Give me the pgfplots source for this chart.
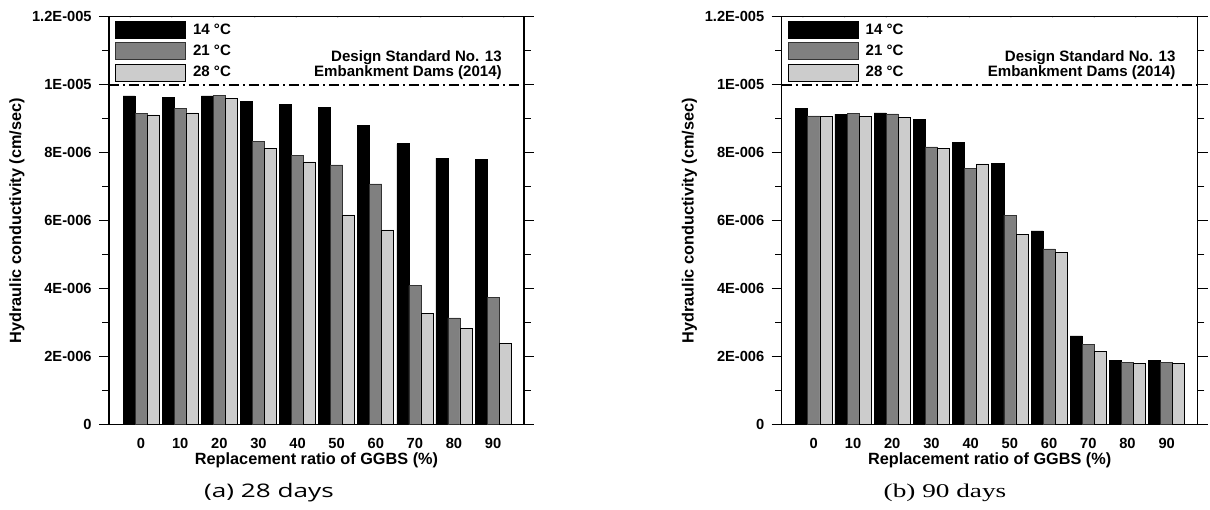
\documentclass[border=0pt]{standalone}
\usepackage{fontspec}
\setmainfont{Liberation Sans}
\newfontfamily\capsans{Open Sans}[FakeStretch=1.4]
\newfontfamily\capserif{Liberation Serif}[FakeStretch=1.4]
\usepackage{pgfplots}
\usepackage{pgfplotstable}
\pgfplotsset{compat=1.18}
\definecolor{barmid}{RGB}{128,128,128}
\definecolor{barlight}{RGB}{204,204,204}

% 28 days: a = 14 C, b = 21 C, c = 28 C
\pgfplotstableread{
x a b c
0 9.67e-6 9.16e-6 9.11e-6
1 9.62e-6 9.29e-6 9.17e-6
2 9.67e-6 9.69e-6 9.59e-6
3 9.51e-6 8.32e-6 8.13e-6
4 9.43e-6 7.92e-6 7.73e-6
5 9.34e-6 7.64e-6 6.17e-6
6 8.79e-6 7.08e-6 5.73e-6
7 8.26e-6 4.09e-6 3.28e-6
8 7.84e-6 3.14e-6 2.83e-6
9 7.81e-6 3.74e-6 2.40e-6
}\tabA

% 90 days
\pgfplotstableread{
x a b c
0 9.29e-6 9.08e-6 9.06e-6
1 9.13e-6 9.15e-6 9.07e-6
2 9.17e-6 9.14e-6 9.03e-6
3 8.98e-6 8.17e-6 8.13e-6
4 8.29e-6 7.53e-6 7.67e-6
5 7.68e-6 6.16e-6 5.60e-6
6 5.70e-6 5.17e-6 5.07e-6
7 2.61e-6 2.36e-6 2.16e-6
8 1.88e-6 1.84e-6 1.81e-6
9 1.88e-6 1.82e-6 1.79e-6
}\tabB

\pgfplotsset{
  hcaxis/.style={
    scale only axis, width=311.25pt, height=306pt,
    xmin=-0.82, xmax=9.79, ymin=0, ymax=1.2e-5,
    ybar, bar width=0.307,
    xtick={0,1,2,3,4,5,6,7,8,9},
    xticklabels={0,10,20,30,40,50,60,70,80,90},
    xtick style={draw=none},
    ytick={0,2e-6,4e-6,6e-6,8e-6,1e-5,1.2e-5},
    yticklabels={0,2E-006,4E-006,6E-006,8E-006,1E-005,1.2E-005},
    scaled y ticks=false,
    minor y tick num=1,
    tick align=outside,
    major tick length=7.5pt, minor tick length=5pt,
    every tick/.style={black, line width=1pt},
    axis line style={line width=1.2pt},
    tick label style={font=\bfseries\fontsize{11}{13}\selectfont},
    yticklabel style={xshift=-2pt},
    xticklabel style={yshift=0.5pt},
    label style={font=\bfseries\fontsize{12.2}{14}\selectfont},
    xlabel={Replacement ratio of GGBS (\%)},
    ylabel={Hydraulic conductivity (cm/sec)},
    x label style={at={(axis description cs:0.5,-0.0866)}, anchor=center},
    y label style={at={(axis description cs:-0.2217,0.5)}, anchor=center},
    legend style={at={(axis description cs:0,1)}, anchor=north west,
      xshift=4.5pt, yshift=-3pt, draw=none, fill=none, inner sep=0pt,
      row sep=2.65pt, column sep=5.25pt,
      font=\bfseries\fontsize{11.3}{13}\selectfont, nodes={inner sep=0pt}},
    legend cell align=left,
  },
  legpatch/.style={legend image code/.code={\draw[##1, line width=0.6pt] (0pt,-6.375pt) rectangle (52.5pt,6.375pt);}},
  s1/.style={fill=black, draw=black, line width=0.5pt, bar shift=-0.307, legpatch},
  s2/.style={fill=barmid, draw=black!80, line width=0.5pt, bar shift=0, legpatch},
  s3/.style={fill=barlight, draw=black, line width=0.5pt, bar shift=0.307, legpatch},
}

\newcommand{\decor}{%
  \draw[line width=1.4pt, dash pattern=on 7.5pt off 3pt on 1.5pt off 3pt]
    (axis cs:-0.82,1e-5) -- (axis cs:9.79,1e-5);
  \pgfplotsinvokeforeach{0.05,0.15,0.25,0.35,0.45,0.55,0.65,0.75,0.85,0.95}{
    \draw[line width=1pt] (rel axis cs:##1,1) -- ++(0,7.5pt);}
  \node[anchor=north east, align=right, inner sep=0pt, xshift=-16.5pt, yshift=-25pt,
        font=\bfseries\fontsize{11.3}{9.8}\selectfont]
    at (rel axis cs:1,1) {Design Standard No. 13\\Embankment Dams (2014)};
}

\begin{document}
\begin{tikzpicture}
\path[use as bounding box] (-81.75pt,-64pt) rectangle (825.75pt,318.5pt);

\begin{axis}[hcaxis, at={(0pt,0pt)}, anchor=south west]
  \addplot[s1] table[x=x,y=a]{\tabA};
  \addplot[s2] table[x=x,y=b]{\tabA};
  \addplot[s3] table[x=x,y=c]{\tabA};
  \legend{14 °C, 21 °C, 28 °C}
  \decor
\end{axis}

\begin{axis}[hcaxis, at={(504.5pt,0pt)}, anchor=south west, width=312pt]
  \addplot[s1] table[x=x,y=a]{\tabB};
  \addplot[s2] table[x=x,y=b]{\tabB};
  \addplot[s3] table[x=x,y=c]{\tabB};
  \legend{14 °C, 21 °C, 28 °C}
  \decor
\end{axis}

\node[font=\capsans\fontsize{14}{16}\selectfont] at (120pt,-51.2pt) {(a) 28 days};
\node[font=\capserif\fontsize{14.6}{17}\selectfont] at (627pt,-51.2pt) {(b) 90 days};
\end{tikzpicture}
\end{document}
